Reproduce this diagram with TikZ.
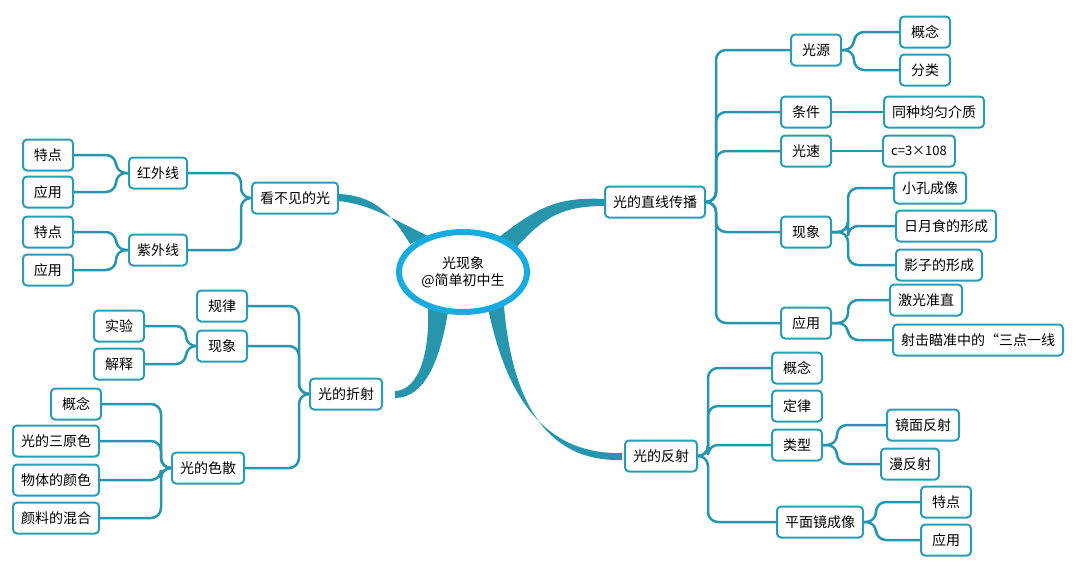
\documentclass[tikz,border=0pt]{standalone}
\usepackage{fontspec}
\setmainfont{Noto Sans CJK SC}
\begin{document}
\begin{tikzpicture}[x=1pt,y=-1pt,
  box/.style={draw=teal1,line width=2pt,rounded corners=4pt,fill=white,minimum height=31pt,minimum width=50pt,inner xsep=8pt,font=\fontsize{14}{16}\selectfont},
  conn/.style={draw=teal2,line width=2.5pt,rounded corners=10pt},
  br/.style={fill=teal2}]
\definecolor{teal1}{HTML}{2A9DB3}
\definecolor{teal2}{HTML}{2796AD}
\useasboundingbox (0,0) rectangle (1080,576);
% tapered branches
\fill[br] (498,238) .. controls (540,205) and (560,197) .. (605,199) -- (605,206) .. controls (565,206) and (545,215) .. (516,248) -- cycle;
\fill[br] (410,244) .. controls (390,210) and (370,195) .. (338,194) -- (338,201) .. controls (368,204) and (385,215) .. (428,236) -- cycle;
\fill[br] (428,306) .. controls (430,350) and (420,390) .. (395,391) -- (395,398) .. controls (425,398) and (440,360) .. (448,312) -- cycle;
\fill[br] (488,308) .. controls (505,390) and (540,455) .. (622,453) -- (622,460) .. controls (545,462) and (512,400) .. (504,306) -- cycle;
\draw[line width=6pt,draw={rgb,255:red,24;green,170;blue,224},fill=white] (463,272) ellipse [x radius=64,y radius=40];
\node[align=center,font=\fontsize{14}{17}\selectfont] (root) at (463,272) {光现象\\@简单初中生};
% right top
\node[box] (zx) at (655,202) {光的直线传播};
\node[box] (gy) at (816,50) {光源};
\node[box] (gn1) at (925,32) {概念};
\node[box] (fl) at (925,70) {分类};
\node[box] (tj) at (806,112) {条件};
\node[box] (tz) at (934,112) {同种均匀介质};
\node[box] (gs) at (806,151) {光速};
\node[box,font=\fontsize{13}{15}\selectfont] (c) at (919,151) {c=3×108};
\node[box] (xx1) at (806,232) {现象};
\node[box] (xk) at (930,188) {小孔成像};
\node[box] (ry) at (946,226) {日月食的形成};
\node[box] (yz) at (939,265) {影子的形成};
\node[box] (yy1) at (806,323) {应用};
\node[box] (jg) at (926,300) {激光准直};
\node[box] (sj) at (978,340) {射击瞄准中的“三点一线};
\foreach \c in {gy,tj,gs,xx1,yy1} \draw[conn] (zx.east) -- ++(10,0) |- (\c.west);
\foreach \c in {gn1,fl} \draw[conn] (gy.east) -- ++(12,0) |- (\c.west);
\draw[conn] (tj.east) -- (tz.west);
\draw[conn] (gs.east) -- (c.west);
\foreach \c in {xk,ry,yz} \draw[conn] (xx1.east) -- ++(16,0) |- (\c.west);
\foreach \c in {jg,sj} \draw[conn] (yy1.east) -- ++(16,0) |- (\c.west);
% right bottom
\node[box] (fs) at (661,456) {光的反射};
\node[box] (gn2) at (797,368) {概念};
\node[box] (dl) at (797,406) {定律};
\node[box] (lx) at (797,445) {类型};
\node[box] (pm) at (820,522) {平面镜成像};
\node[box] (jm) at (923,425) {镜面反射};
\node[box] (mf) at (910,464) {漫反射};
\node[box] (td2) at (946,502) {特点};
\node[box] (yy2) at (946,540) {应用};
\foreach \c in {gn2,dl,lx,pm} \draw[conn] (fs.east) -- ++(10,0) |- (\c.west);
\foreach \c in {jm,mf} \draw[conn] (lx.east) -- ++(14,0) |- (\c.west);
\foreach \c in {td2,yy2} \draw[conn] (pm.east) -- ++(12,0) |- (\c.west);
% left top
\node[box] (kb) at (295,198) {看不见的光};
\node[box] (hw) at (158,173) {红外线};
\node[box] (zw) at (158,250) {紫外线};
\node[box] (td1) at (48,155) {特点};
\node[box] (yy3) at (48,192) {应用};
\node[box] (td3) at (48,232) {特点};
\node[box] (yy4) at (48,270) {应用};
\foreach \c in {hw,zw} \draw[conn] (kb.west) -- ++(-10,0) |- (\c.east);
\foreach \c in {td1,yy3} \draw[conn] (hw.west) -- ++(-12,0) |- (\c.east);
\foreach \c in {td3,yy4} \draw[conn] (zw.west) -- ++(-12,0) |- (\c.east);
% left bottom
\node[box] (zs) at (346,394) {光的折射};
\node[box] (gl) at (222,306) {规律};
\node[box] (xx2) at (222,346) {现象};
\node[box] (ss) at (208,468) {光的色散};
\node[box] (sy) at (119,326) {实验};
\node[box] (js) at (119,364) {解释};
\node[box] (gn3) at (76,404) {概念};
\node[box] (sy3) at (56,441) {光的三原色};
\node[box] (wt) at (56,480) {物体的颜色};
\node[box] (yl) at (56,518) {颜料的混合};
\foreach \c in {gl,xx2,ss} \draw[conn] (zs.west) -- ++(-10,0) |- (\c.east);
\foreach \c in {sy,js} \draw[conn] (xx2.west) -- ++(-10,0) |- (\c.east);
\foreach \c in {gn3,sy3,wt,yl} \draw[conn] (ss.west) -- ++(-10,0) |- (\c.east);
\end{tikzpicture}
\end{document}
